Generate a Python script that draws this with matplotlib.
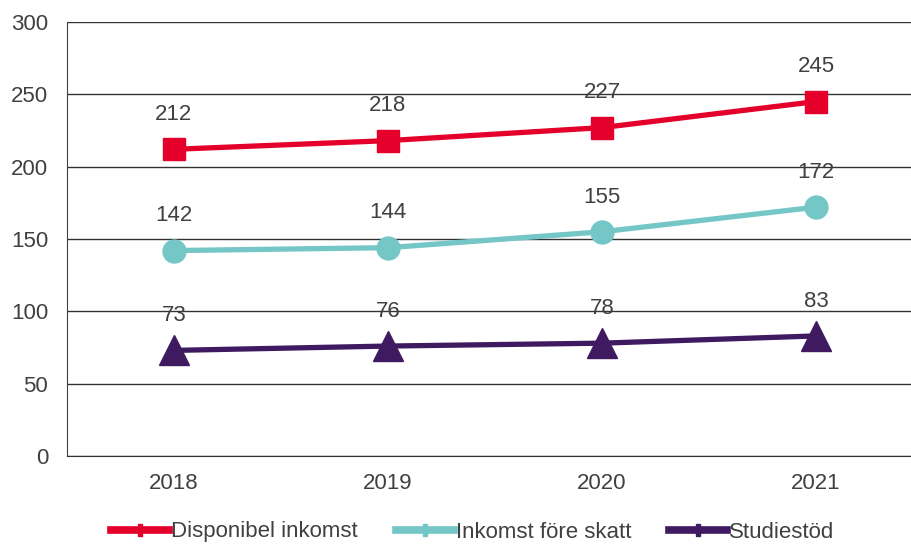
import matplotlib
matplotlib.use("Agg")
import matplotlib.pyplot as plt

years = ["2018", "2019", "2020", "2021"]
disponibel = [212, 218, 227, 245]
inkomst = [142, 144, 155, 172]
studiestod = [73, 76, 78, 83]
series_names = ["Disponibel inkomst", "Inkomst före skatt", "Studiestöd"]
yticks = [0, 50, 100, 150, 200, 250, 300]

plt.rcParams['font.family'] = ['Liberation Sans', 'DejaVu Sans']
txt = '#404040'
fs = 16

fig = plt.figure(figsize=(9.12, 5.44), dpi=100)
ax = fig.add_axes([67/912, 88/544, 856/912, 434/544])
x = list(range(len(years)))

styles = [
    (disponibel, '#E4002B', 's', 16.5),
    (inkomst, '#74C6C7', 'o', 16.5),
    (studiestod, '#401A60', '^', 21.5),
]
handles = []
for (vals, col, mk, ms), name in zip(styles, series_names):
    ax.plot(x, vals, color=col, lw=3.8, marker=mk, markersize=ms, zorder=3,
            solid_capstyle='round', clip_on=False)
    h, = ax.plot([], [], color=col, lw=5.5, marker='P', markersize=9, label=name)
    handles.append(h)
    for xi, v in zip(x, vals):
        ax.annotate(str(v), (xi, v), xytext=(0, 25), textcoords='offset points',
                    ha='center', va='center', fontsize=fs, color=txt, zorder=4)

ax.set_xlim(-0.5, 3.5)
ax.set_ylim(0, 300)
ax.set_yticks(yticks)
ax.set_xticks(x)
ax.set_xticklabels(years)
ax.grid(axis='y', color='#333333', lw=1)
ax.set_axisbelow(True)
for s in ['top', 'right']:
    ax.spines[s].set_visible(False)
ax.spines['left'].set_color('#404040')
ax.spines['bottom'].set_color('#333333')
ax.tick_params(axis='both', length=0, labelsize=fs, colors=txt)
ax.tick_params(axis='y', pad=13.5)
ax.tick_params(axis='x', pad=12)

fig.legend(handles=handles, loc='center', bbox_to_anchor=(473/912, 12/544),
           ncol=3, frameon=False, fontsize=fs, handlelength=2.6,
           handletextpad=0.1, columnspacing=1.7, labelcolor=txt)

fig.savefig('out.png', dpi=100)
